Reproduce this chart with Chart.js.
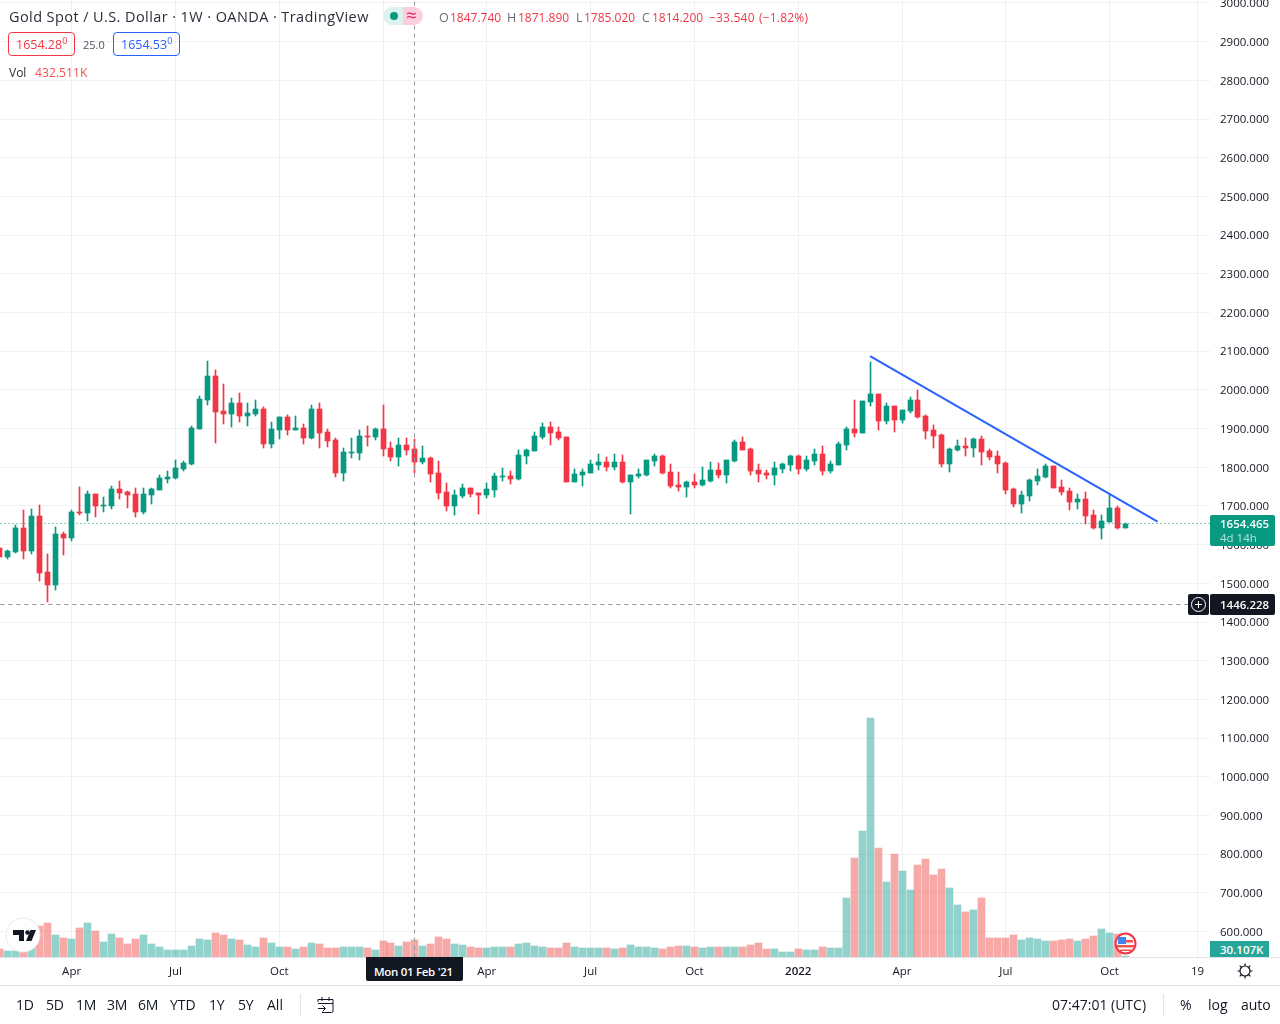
<!DOCTYPE html>
<html>
<head>
<meta charset="utf-8">
<script src="https://cdn.jsdelivr.net/npm/chart.js@4/dist/chart.umd.js"></script>
<style>
html,body{margin:0;padding:0;background:#fff;width:1280px;height:1024px;overflow:hidden}
body{font-family:"Open Sans",sans-serif;color:#131722;position:relative}
canvas{position:absolute;left:0;top:0}
.t{position:absolute;white-space:nowrap;line-height:1}
.box{position:absolute;box-sizing:border-box}
.tb{font-size:14px;top:998px;color:#131722}
.lg{font-size:12px;top:12px;color:#f23645}
.lk{font-size:12.500px;top:12px;color:#6a6d78}
</style>
</head>
<body>
<canvas id="c" width="1280" height="1024"></canvas>

<div class="t" style="left:9px;top:10px;font-size:14.5px;letter-spacing:.41px;color:#2a2e39">Gold Spot / U.S. Dollar · 1W · OANDA · TradingView</div>
<div class="box" style="left:383px;top:7px;width:20px;height:18px;background:#dcf2ef;border-radius:9px 0 0 9px"></div>
<div class="box" style="left:403px;top:7px;width:20px;height:18px;background:#fccfdd;border-radius:0 9px 9px 0"></div>
<div class="box" style="left:390px;top:12px;width:8px;height:8px;background:#089981;border-radius:50%"></div>
<div class="t" style="left:406px;top:6px;font-size:19px;color:#e91e63">≈</div>
<div class="t lk" style="left:439px">O</div><div class="t lg" style="left:450px">1847.740</div>
<div class="t lk" style="left:507px">H</div><div class="t lg" style="left:518px">1871.890</div>
<div class="t lk" style="left:576px">L</div><div class="t lg" style="left:584px">1785.020</div>
<div class="t lk" style="left:642px">C</div><div class="t lg" style="left:652px">1814.200</div>
<div class="t lg" style="left:709px;letter-spacing:.2px">−33.540</div>
<div class="t lg" style="left:759px;letter-spacing:.2px">(−1.82%)</div>
<div class="box" style="left:8px;top:32px;width:67px;height:24px;border:1px solid #f23645;border-radius:4px"></div>
<div class="t" style="left:16px;top:39px;font-size:12.500px;color:#f23645">1654.28<sup style="font-size:9px;line-height:0">0</sup></div>
<div class="t" style="left:83px;top:39px;font-size:11px;color:#50535e">25.0</div>
<div class="box" style="left:113px;top:32px;width:67px;height:24px;border:1px solid #2962ff;border-radius:4px"></div>
<div class="t" style="left:121px;top:39px;font-size:12.500px;color:#2962ff">1654.53<sup style="font-size:9px;line-height:0">0</sup></div>
<div class="t" style="left:9px;top:67px;font-size:12px;color:#2a2e39">Vol</div>
<div class="t" style="left:35px;top:67px;font-size:12.200px;color:#ef5350">432.511K</div>

<div class="box" style="left:1210px;top:515px;width:65px;height:31px;background:#089981;border-radius:2px"></div>
<div class="t" style="left:1220px;top:518px;font-size:11.500px;font-weight:600;color:#fff">1654.465</div>
<div class="t" style="left:1220px;top:532px;font-size:11.500px;color:#b5e0d9">4d 14h</div>
<div class="box" style="left:1188px;top:594px;width:21px;height:21px;background:#131722;border-radius:2px"></div>
<svg style="position:absolute;left:1188px;top:594px" width="21" height="21"><circle cx="10.5" cy="10.5" r="7" fill="none" stroke="#fff"/><path d="M10.5 7v7M7 10.5h7" stroke="#fff"/></svg>
<div class="box" style="left:1210px;top:594px;width:65px;height:21px;background:#131722;border-radius:2px"></div>
<div class="t" style="left:1220px;top:599px;font-size:11.500px;font-weight:600;color:#fff">1446.228</div>
<div class="box" style="left:1210px;top:941px;width:59px;height:16px;background:#26a69a"></div>
<div class="t" style="left:1220px;top:944px;font-size:11.500px;font-weight:600;color:#fff">30.107K</div>

<div class="box" style="left:0;top:957px;width:1280px;height:1px;background:#e0e3eb"></div>
<div class="box" style="left:0;top:985px;width:1280px;height:1px;background:#e0e3eb"></div>
<div class="box" style="left:366px;top:957px;width:97px;height:24px;background:#131722;border-radius:0 0 2px 2px"></div>
<div class="t" style="left:374px;top:966px;font-size:11.500px;letter-spacing:-.3px;font-weight:600;color:#fff">Mon 01 Feb '21</div>

<svg style="position:absolute;left:5px;top:917px" width="36" height="36"><circle cx="18" cy="18" r="17" fill="#fff" stroke="#e8e8ea" stroke-width="1"/><path d="M8 13h11v11h-5v-6H8z" fill="#131722"/><circle cx="22.5" cy="15.500" r="2.300" fill="#131722"/><path d="M25.500 13h5.500l-4.500 11h-5.500z" fill="#131722"/></svg>
<svg style="position:absolute;left:1114px;top:932px" width="23" height="23"><circle cx="11.5" cy="11.5" r="10" fill="#fff" stroke="#f23645" stroke-width="2"/><path d="M4 8h15v2.500H4zM3 13h17v2.500H3zM5.500 17.500h12v1.500h-12z" fill="#ef5350"/><path d="M4 5h8v7H4z" fill="#3d86ee"/></svg>
<svg style="position:absolute;left:1236px;top:962px" width="18" height="18"><circle cx="9" cy="9" r="5" fill="none" stroke="#131722" stroke-width="1.200"/><path d="M9 1.500v2.500M9 14v2.500M1.500 9h2.500M14 9h2.500M3.700 3.700l1.800 1.800M12.500 12.500l1.800 1.800M3.700 14.300l1.800-1.800M12.500 5.500l1.800-1.800" stroke="#131722" stroke-width="1.200"/></svg>

<div class="t tb" style="left:16px;letter-spacing:-.2px">1D</div>
<div class="t tb" style="left:46px;letter-spacing:-.2px">5D</div>
<div class="t tb" style="left:76px;letter-spacing:-.3px">1M</div>
<div class="t tb" style="left:107px;letter-spacing:-.3px">3M</div>
<div class="t tb" style="left:138px;letter-spacing:-.3px">6M</div>
<div class="t tb" style="left:170px">YTD</div>
<div class="t tb" style="left:209px;letter-spacing:-.3px">1Y</div>
<div class="t tb" style="left:238px;letter-spacing:-.3px">5Y</div>
<div class="t tb" style="left:267px">All</div>
<div class="box" style="left:300px;top:994px;width:1px;height:22px;background:#e0e3eb"></div>
<svg style="position:absolute;left:317px;top:996px" width="18" height="18"><path d="M1 6V3.500h15V15a1.500 1.500 0 0 1-1.500 1.500H5M1 7.500h15M5 1v4M12 1v4M1 12.500h7M5.500 9.500l3 3-3 3" fill="none" stroke="#131722" stroke-width="1"/></svg>
<div class="t tb" style="left:1052px">07:47:01 (UTC)</div>
<div class="box" style="left:1163px;top:994px;width:1px;height:22px;background:#e0e3eb"></div>
<div class="t tb" style="left:1180px">%</div>
<div class="t tb" style="left:1208px">log</div>
<div class="t tb" style="left:1241px">auto</div>

<script>
// Weekly Gold Spot / USD candles, oldest first (week number = array position)
const opens = [1591,1568,1581,1643,1584,1674,1529,1496,1628,1617,1684,1682,1731,1700,1700,1744,1736,1731,1684,1728,1741,1770,1772,1795,1808,1899,1974,2036,1945,1938,1966,1932,1938,1951,1860,1896,1930,1896,
1901,1876,1951,1891,1870,1785,1837,1837,1881,1878,1899,1850,1826.5,1858,1847.74,1814,1824,1785,1736,1700,1726,1746,1733.5,1728,1741,1775,1777,1770,1829,1842,1878,1904,1891,1878,1762,1780,1785,1806,1814,1801,1814,1762,1777,1780,1816,1829,1788,1754,1749,1762,1754,1764.5,1793,1780,1816,1865,1847,1793,1785,1780,1795.5,1806,1829,1795.5,1816,1834,1790,1806,
1858,1899,1889,1969,1989,1920,1958,1922,1945,1974,1932,1896,1883,1808,1845,1855,1850,1873,1842,1829,1811,1744,1705,1726,1764.5,1775,1803,1749,1739,1710,1718,1677,1643,1658.5,1695,1643];
const highs = [1591,1586,1651,1690,1692,1702,1576,1646,1633,1690,1749,1739,1731,1723,1752,1764,1739,1746,1746,1746,1780,1790,1819,1816,1907,1984,2075,2051,2015,1979,1992,1966,1974,1956,1917,1930,1935,1932,
1912,1961,1966,1899,1876,1850,1876,1896,1907,1901,1961,1865,1876,1876,1871.89,1855,1826.5,1816,1759,1741,1757,1746,1733.5,1759,1785,1798,1790,1845,1847,1891,1914,1917,1904,1878,1795.5,1795.5,1819,1834,1826.5,1834,1832,1780,1795.5,1819,1834,1832,1808,1788,1764.5,1783,1801,1814,1811,1819,1870.5,1878,1850,1808,1793,1814,1811,1832,1832,1829,1847,1855,1816,1865,
1904,1974,1971,2072,1989,1966,1958,1948,1982,2000,1935,1909,1886,1850,1870,1876,1876,1881,1847,1842,1814,1746,1739,1770,1795.5,1808.5,1803,1767,1746,1731,1736,1690,1677,1731,1700,1656];
const lows = [1568,1563,1578,1563,1576,1506,1452,1483,1573,1609,1677,1661,1671,1684,1692,1718,1695,1671,1679,1705,1741,1759,1770,1790,1806,1899,1961,1863,1912,1904,1917,1907,1932,1850,1850,1873,1883,1896,
1860,1873,1850,1852,1775,1764,1824,1819,1855,1870,1829,1816,1803,1832,1785.02,1808,1762,1718,1687,1677,1721,1723,1679,1721,1723,1764.5,1757,1767,1808,1842,1873,1858,1870,1762,1762,1752,1785,1793,1790,1793,1759,1679,1772,1777,1803,1783,1746,1739,1723,1746,1752,1762,1772,1759,1814,1845,1780,1762,1770,1754,1785,1790,1783,1790,1806,1780,1785,1806,
1845,1878,1889,1958,1896,1912,1891,1914,1940,1927,1873,1850,1801,1788,1842,1829,1827,1806,1819,1785,1731,1697,1682,1713,1754,1772,1746,1728,1690,1692,1653,1640.5,1615,1658.5,1640.5,1643];
const closes = [1568,1584,1643,1584,1674,1527,1496,1628,1617,1684,1681,1731,1700,1702.5,1744,1733,1728,1684,1731,1744,1772,1775,1798,1811,1901,1976,2036,1943,1938,1966,1932,1940,1951,1860,1899,1930,1896,1901,
1876,1951,1889,1868,1785,1839.5,1840,1881,1878,1899,1847,1826.5,1858,1845,1814.2,1824,1783,1733.5,1700,1728,1746,1731,1728,1744,1777,1777,1770,1832,1845,1881,1904,1889,1876,1762,1783,1788,1808,1814,1801,1814,1762,1780,1783,1819,1829,1785,1752,1749,1762,1754,1767,1793,1780,1819,1865,1845,1790,1783,1780,1798,1808,1829,1795.5,1819,1834,1790,1808,1860,
1899,1889,1971,1989,1920,1958,1922,1948,1974,1930,1894,1881,1808,1847,1855,1850,1873,1839.5,1827,1808.5,1741,1705,1728,1767,1777.5,1803,1746,1736,1710,1718,1674,1643,1661,1695,1643,1654.465];
// Volume in thousands
const volumes = [208,142,158,158,268,782,858,558,482,458,732,858,658,382,582,482,332,458,558,332,258,182,182,182,282,458,432,608,558,458,432,308,258,482,358,258,258,208,258,358,332,232,232,258,258,258,232,182,408,358,282,382,432.511,
282,332,508,458,332,308,258,232,232,258,258,258,332,358,282,258,232,232,358,258,232,232,232,232,208,232,308,258,258,232,208,258,282,282,258,232,258,258,258,258,258,308,358,208,208,132,132,208,182,182,258,232,232,
1475,2475,3150,5975,2725,1875,2575,2150,1675,2300,2450,2050,2200,1725,1300,1125,1175,1475,475,475,475,550,425,475,450,400,400,425,450,400,450,525,700,600,575,30.107];
const priceTicks = [3000,2900,2800,2700,2600,2500,2400,2300,2200,2100,2000,1900,1800,1700,1600,1500,1400,1300,1200,1100,1000,900,800,700,600];
const tickWeeks  = [9,22,35,48,61,74,87,100,113,126,139,150];
const tickLabels = ['Apr','Jul','Oct','','Apr','Jul','Oct','2022','Apr','Jul','Oct','19'];
const trendWeeks = [109,145];
const trendPrices = [2087.6,1659.3];
const lastPrice = 1654.465;
const crossPrice = 1446.228;
const crossWeek = 52;
const priceMin = 534.3, priceMax = 3007.75;
const volMax = 23925;
const weekMin = 0.032, weekMax = 151.57;

const GREEN='#089981', RED='#f23645', GRID='#f1f1f3';
const up = closes.map((c,i)=>c>=opens[i]);
const weeks = closes.map((_,i)=>i);

const snap = {
  id:'snap',
  afterDatasetsUpdate(chart){
    chart.data.datasets.forEach((ds,di)=>{
      const meta = chart.getDatasetMeta(di);
      if(ds.type==='bar'){
        meta.data.forEach(el=>{
          el.x = Math.floor(el.x)+0.5;
          el.y = Math.round(el.y);
          el.base = Math.round(el.base);
        });
      } else if(ds.crisp){
        meta.data.forEach(el=>{
          el.x = Math.floor(el.x)+0.5;
          el.y = Math.floor(el.y)+0.5;
        });
      }
    });
  }
};

const noPad = s => { s.paddingTop=0; s.paddingBottom=0; s.paddingLeft=0; s.paddingRight=0; };
const lineDs = (label,xs,ys,color,width,dash,crisp,order) => ({
  type:'line',label,data:xs.map((x,i)=>({x,y:ys[i]})),borderColor:color,borderWidth:width,borderDash:dash,
  pointRadius:0,fill:false,tension:0,yAxisID:'y',crisp,order
});

new Chart(document.getElementById('c'),{
  data:{datasets:[
    {type:'bar',label:'Vol',yAxisID:'v',data:weeks.map(i=>({x:i,y:volumes[i]})),barThickness:7,grouped:false,order:10,borderWidth:0,
      backgroundColor:up.map(u=>u?'rgba(38,166,154,.5)':'rgba(239,83,80,.5)')},
    {type:'bar',label:'Wick',yAxisID:'y',data:weeks.map(i=>({x:i,y:[lows[i],highs[i]]})),barThickness:1,grouped:false,order:9,borderWidth:0,
      backgroundColor:up.map(u=>u?GREEN:RED)},
    {type:'bar',label:'Body',yAxisID:'y',data:weeks.map(i=>({x:i,y:[opens[i],closes[i]]})),barThickness:5,grouped:false,order:8,borderWidth:0,
      backgroundColor:up.map(u=>u?GREEN:RED)},
    lineDs('Last',[weekMin,weekMax],[lastPrice,lastPrice],GREEN,1,[1,3],true,3),
    lineDs('Trend',trendWeeks,trendPrices,'#2962ff',2,[],false,2),
    lineDs('CrossV',[crossWeek,crossWeek],[priceMin,priceMax],'#9598a1',1,[4,4],true,1),
    lineDs('CrossH',[weekMin,148.9],[crossPrice,crossPrice],'#9598a1',1,[4,4],true,1)
  ]},
  options:{
    responsive:false,animation:false,devicePixelRatio:1,
    layout:{padding:{left:0,right:0,top:0,bottom:39}},
    plugins:{legend:{display:false},tooltip:{enabled:false},title:{display:false}},
    events:[],
    scales:{
      x:{type:'linear',position:'bottom',min:weekMin,max:weekMax,offset:false,
        grid:{color:GRID,drawTicks:false,offset:false},border:{display:false},
        afterBuildTicks(s){ s.ticks = tickWeeks.map(value=>({value})); },
        afterFit(s){ s.height=28; noPad(s); },
        ticks:{autoSkip:false,maxRotation:0,padding:8,color:'#131722',
          font:ctx=>({family:'"Open Sans"',size:11.5,weight:(ctx.tick&&ctx.tick.value===100)?'600':'400'}),
          callback:v=>{const i=tickWeeks.indexOf(v);return i<0?null:tickLabels[i];}}
      },
      y:{type:'linear',position:'right',min:priceMin,max:priceMax,
        grid:{color:GRID,drawTicks:false},border:{display:false},
        afterBuildTicks(s){ s.ticks = priceTicks.map(value=>({value})); },
        afterFit(s){ s.width=70; noPad(s); },
        ticks:{autoSkip:false,padding:10,labelOffset:1,color:'#131722',font:{family:'"Open Sans"',size:11.5},callback:v=>v.toFixed(3)}
      },
      v:{type:'linear',display:false,position:'right',min:0,max:volMax,grid:{display:false}}
    }
  },
  plugins:[snap]
});
</script>
</body>
</html>
